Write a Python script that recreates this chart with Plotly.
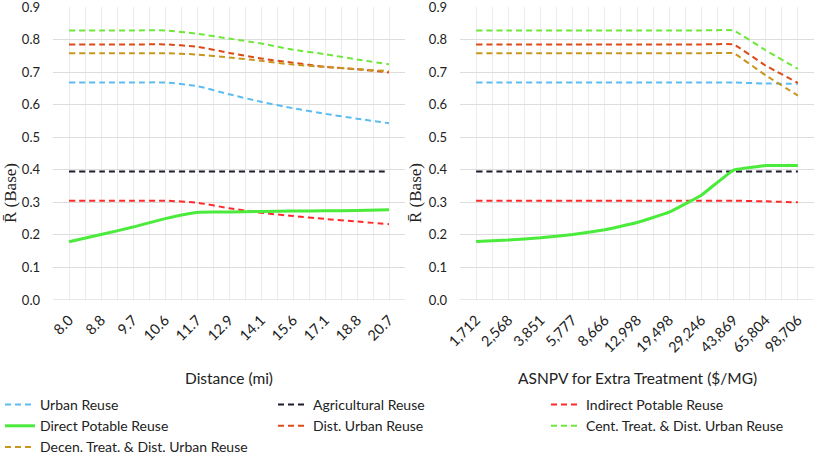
import plotly.graph_objects as go

# ---------------- data ----------------
distance_labels = ["8.0", "8.8", "9.7", "10.6", "11.7", "12.9", "14.1", "15.6", "17.1", "18.8", "20.7"]
asnpv_labels = ["1,712", "2,568", "3,851", "5,777", "8,666", "12,998", "19,498", "29,246", "43,869", "65,804", "98,706"]
y_ticks = [0.0, 0.1, 0.2, 0.3, 0.4, 0.5, 0.6, 0.7, 0.8, 0.9]

series_names = ["Urban Reuse", "Agricultural Reuse", "Indirect Potable Reuse",
                "Direct Potable Reuse", "Dist. Urban Reuse",
                "Cent. Treat. & Dist. Urban Reuse", "Decen. Treat. & Dist. Urban Reuse"]

# Left panel: Distance (mi)
dist_urban = [0.668, 0.668, 0.668, 0.668, 0.657, 0.632, 0.609, 0.589, 0.572, 0.557, 0.543]
dist_agri = [0.395, 0.395, 0.395, 0.395, 0.395, 0.395, 0.395, 0.395, 0.395, 0.395, 0.395]
dist_ipr = [0.305, 0.305, 0.305, 0.305, 0.299, 0.282, 0.268, 0.258, 0.249, 0.241, 0.233]
dist_dpr = [0.179, 0.201, 0.224, 0.250, 0.269, 0.270, 0.272, 0.273, 0.274, 0.275, 0.277]
dist_disturban = [0.785, 0.785, 0.785, 0.785, 0.778, 0.759, 0.742, 0.729, 0.716, 0.709, 0.699]
dist_cent = [0.828, 0.828, 0.828, 0.828, 0.818, 0.803, 0.788, 0.769, 0.755, 0.739, 0.724]
dist_decen = [0.758, 0.758, 0.758, 0.758, 0.754, 0.745, 0.735, 0.723, 0.716, 0.709, 0.703]

# Right panel: ASNPV for extra treatment ($/MG)
asnpv_urban = [0.668, 0.668, 0.668, 0.668, 0.668, 0.668, 0.668, 0.668, 0.668, 0.665, 0.664]
asnpv_agri = [0.395, 0.395, 0.395, 0.395, 0.395, 0.395, 0.395, 0.395, 0.395, 0.395, 0.395]
asnpv_ipr = [0.305, 0.305, 0.305, 0.305, 0.305, 0.305, 0.305, 0.305, 0.305, 0.303, 0.300]
asnpv_dpr = [0.180, 0.184, 0.191, 0.201, 0.216, 0.238, 0.270, 0.322, 0.399, 0.413, 0.413]
asnpv_disturban = [0.785, 0.785, 0.785, 0.785, 0.785, 0.785, 0.785, 0.785, 0.785, 0.720, 0.667]
asnpv_cent = [0.828, 0.828, 0.828, 0.828, 0.828, 0.828, 0.828, 0.828, 0.828, 0.767, 0.710]
asnpv_decen = [0.758, 0.758, 0.758, 0.758, 0.758, 0.758, 0.758, 0.758, 0.758, 0.690, 0.628]

left_series = [dist_urban, dist_agri, dist_ipr, dist_dpr, dist_disturban, dist_cent, dist_decen]
right_series = [asnpv_urban, asnpv_agri, asnpv_ipr, asnpv_dpr, asnpv_disturban, asnpv_cent, asnpv_decen]

# ---------------- styles ----------------
colors = ["#5cbcf2", "#1c1c2c", "#ff2b2b", "#4aeb3a", "#dc4a18", "#6ee83a", "#c8961e"]
dashes = ["6px,4px", "6px,4px", "6px,4px", "solid", "6px,4px", "6px,4px", "6px,4px"]
widths = [2, 2, 2, 3, 2, 2, 2]

W, H = 817, 454
FONT = "Lato"
TXT = "#222222"


def fx(px):
    return px / W


def fy(py):
    return 1 - py / H


fig = go.Figure()

for side, (labels, data, xa, ya) in enumerate([
        (distance_labels, left_series, "x", "y"),
        (asnpv_labels, right_series, "x2", "y2")]):
    idx = list(range(len(labels)))
    for i, name in enumerate(series_names):
        sm = 0.6 if side == 0 else 0.25
        fig.add_trace(go.Scatter(
            x=idx, y=data[i], name=name, mode="lines",
            line=dict(color=colors[i], dash=dashes[i], width=widths[i],
                      shape="spline", smoothing=sm),
            legendgroup=name, showlegend=(side == 0),
            xaxis=xa, yaxis=ya, hoverinfo="skip"))

n = len(distance_labels)
xcommon = dict(
    range=[-0.5, n - 0.5], tickmode="array", tickvals=list(range(n)),
    tickangle=-45, showgrid=True, gridcolor="#ececec", gridwidth=1,
    minor=dict(tickvals=[k - 0.5 for k in range(n + 1)], showgrid=True,
               gridcolor="#ececec", gridwidth=1, ticks=""),
    zeroline=False, showline=False, ticks="", automargin=False,
    ticklabelstandoff=8, ticklabeloverflow="allow",
    tickfont=dict(family=FONT, size=14.5, color=TXT), fixedrange=True)
ycommon = dict(
    range=[0, 0.9], tickmode="array", tickvals=y_ticks,
    ticktext=[f"{v:.1f}" for v in y_ticks],
    showgrid=True, gridcolor="#dddddd", gridwidth=1, zeroline=False,
    showline=False, ticks="", ticklen=0, automargin=False,
    ticklabelstandoff=12, ticklabeloverflow="allow",
    tickfont=dict(family=FONT, size=13, color=TXT), fixedrange=True)

fig.update_layout(
    width=W, height=H, margin=dict(l=0, r=0, t=0, b=0, autoexpand=False),
    paper_bgcolor="white", plot_bgcolor="white",
    xaxis=dict(domain=[fx(53), fx(405)], ticktext=distance_labels, anchor="y", **xcommon),
    yaxis=dict(domain=[fy(300), fy(7)], anchor="x", **ycommon),
    xaxis2=dict(domain=[fx(460), fx(814)], ticktext=asnpv_labels, anchor="y2", **xcommon),
    yaxis2=dict(domain=[fy(300), fy(7)], anchor="x2", **ycommon),
    legend=dict(orientation="h", x=0, y=fy(389), xanchor="left", yanchor="top",
                entrywidth=228, entrywidthmode="pixels", traceorder="normal",
                font=dict(family=FONT, size=14, color=TXT), itemwidth=30,
                tracegroupgap=0),
    showlegend=True,
)

# baseline at 0.0
for xa, ya in [("x", "y"), ("x2", "y2")]:
    fig.add_shape(type="line", xref=f"{xa} domain", yref=ya, x0=0, x1=1, y0=0, y1=0,
                  line=dict(color="#d0d0d0", width=1))

# axis titles
fig.add_annotation(x=fx(229), y=fy(378), xref="paper", yref="paper", text="Distance (mi)",
                   xanchor="center", yanchor="middle",
                   showarrow=False, font=dict(family=FONT, size=15.5, color=TXT))
fig.add_annotation(x=fx(637), y=fy(378), xref="paper", yref="paper",
                   text="ASNPV for Extra Treatment ($/MG)",
                   xanchor="center", yanchor="middle",
                   showarrow=False, font=dict(family=FONT, size=15.5, color=TXT))
for px in (10, 415):
    fig.add_annotation(x=fx(px), y=fy(193), xref="paper", yref="paper",
                       text="R\u0304 (Base)", textangle=-90, showarrow=False,
                       xanchor="center", yanchor="middle",
                       font=dict(family="Liberation Serif", size=17, color=TXT))

fig.write_html("out.html")
